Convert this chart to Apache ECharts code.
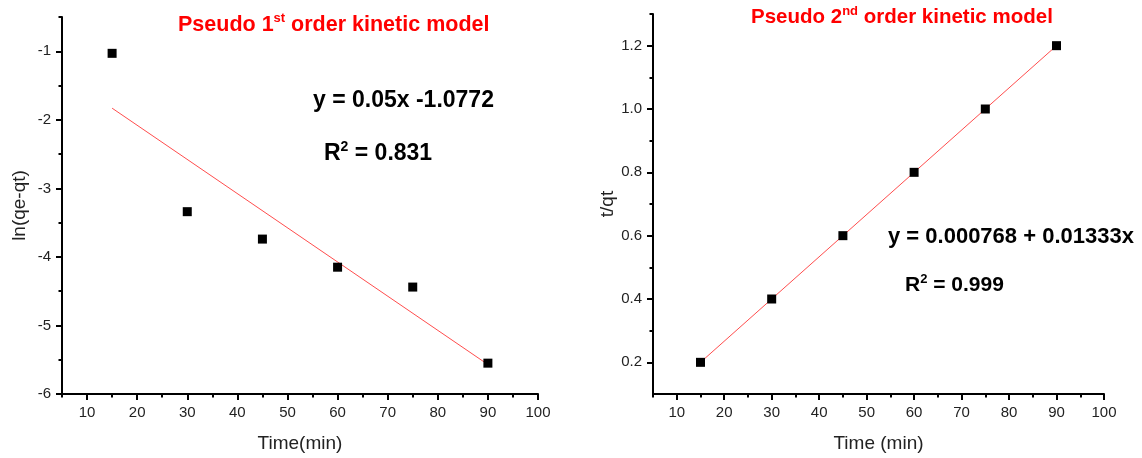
<!DOCTYPE html>
<html>
<head>
<meta charset="utf-8">
<script src="https://cdn.jsdelivr.net/npm/echarts@6/dist/echarts.min.js"></script>
<style>
  html, body { margin: 0; padding: 0; background: #fff; }
  #main { width: 1142px; height: 458px; }
</style>
</head>
<body>
<div id="main"></div>
<script>
// data
let timeMin = [15, 30, 45, 60, 75, 90]
let lnQ = [-1.03, -3.34, -3.74, -4.15, -4.44, -5.55]      // ln(qe-qt)
let tQt = [0.2, 0.4, 0.6, 0.8, 1.0, 1.2]                   // t/qt
let fit1X = [15, 90], fit1Y = [-1.83, -5.57]
let fit2X = [15, 90], fit2Y = [0.2, 1.2]

// tick values
let xMajor = [10, 20, 30, 40, 50, 60, 70, 80, 90, 100]
let xMinor = [5, 15, 25, 35, 45, 55, 65, 75, 85, 95]
let y1Major = [-6, -5, -4, -3, -2, -1]
let y1Minor = [-5.5, -4.5, -3.5, -2.5, -1.5, -0.5]
let y2Major = [0.2, 0.4, 0.6, 0.8, 1.0, 1.2]
let y2Minor = [0.3, 0.5, 0.7, 0.9, 1.1, 1.3]

let font = 'Arial, "Liberation Sans", sans-serif'
let grey = '#222'

function pairs(xs, ys) {
  let out = []
  for (let i = 0; i < xs.length; i++) out.push([xs[i], ys[i]])
  return out
}

function mainAxis(idx, pos, min, max, name, gap, major, fmt) {
  return {
    type: 'value', gridIndex: idx, position: pos, min: min, max: max,
    name: name, nameLocation: 'middle', nameGap: gap,
    nameTextStyle: { fontFamily: font, fontSize: 19, color: grey },
    axisLine: { onZero: false, lineStyle: { color: '#000', width: 2 } },
    axisTick: { customValues: major, length: 6, lineStyle: { color: '#000', width: 2 } },
    axisLabel: { customValues: major, margin: 11, fontFamily: font, fontSize: 15, color: grey, formatter: fmt },
    splitLine: { show: false }
  }
}

// second axis only for the short ticks
function minorAxis(idx, pos, min, max, minor) {
  return {
    type: 'value', gridIndex: idx, position: pos, min: min, max: max,
    axisLine: { show: false, onZero: false },
    axisTick: { customValues: minor, length: 3.5, lineStyle: { color: '#000', width: 2 } },
    axisLabel: { show: false },
    splitLine: { show: false }
  }
}

let title = (txt, left, top, rich) => ({
  text: txt, left: left, top: top, padding: 0,
  textStyle: { rich: rich }
})
function rich(color, size, supSize) {
  return {
    a: { fontFamily: font, fontSize: size, fontWeight: 'bold', color: color, lineHeight: size + 4 },
    s: { fontFamily: font, fontSize: supSize, fontWeight: 'bold', color: color, lineHeight: supSize, verticalAlign: 'top' }
  }
}

let chart = echarts.init(document.getElementById('main'))

chart.setOption({
  backgroundColor: '#fff',
  animation: false,
  title: [
    title('{a|Pseudo 1}{s|st}{a| order kinetic model}', 178, 12, rich('#ff0000', 21.5, 13)),
    title('{a|y = 0.05x -1.0772}', 313, 87, rich('#000', 23, 14)),
    title('{a|R}{s|2}{a| = 0.831}', 324, 140, rich('#000', 23, 14)),
    title('{a|Pseudo 2}{s|nd}{a| order kinetic model}', 751, 5, rich('#ff0000', 20.5, 13)),
    title('{a|y = 0.000768 + 0.01333x}', 888, 224, rich('#000', 22, 13)),
    title('{a|R}{s|2}{a| = 0.999}', 905, 273, rich('#000', 21, 13))
  ],
  grid: [
    { left: 62, right: 604, top: 17, bottom: 61 },
    { left: 653, right: 38, top: 14, bottom: 61 }
  ],
  xAxis: [
    mainAxis(0, 'bottom', 5, 100, 'Time(min)', 40, xMajor, v => String(v)),
    mainAxis(1, 'bottom', 5, 100, 'Time (min)', 40, xMajor, v => String(v)),
    minorAxis(0, 'bottom', 5, 100, xMinor),
    minorAxis(1, 'bottom', 5, 100, xMinor)
  ],
  yAxis: [
    mainAxis(0, 'left', -6, -0.5, 'ln(qe-qt)', 33, y1Major, v => String(v)),
    mainAxis(1, 'left', 0.1, 1.3, 't/qt', 36, y2Major, v => v.toFixed(1)),
    minorAxis(0, 'left', -6, -0.5, y1Minor),
    minorAxis(1, 'left', 0.1, 1.3, y2Minor)
  ],
  series: [
    {
      type: 'line', xAxisIndex: 0, yAxisIndex: 0, data: pairs(fit1X, fit1Y),
      symbol: 'none', lineStyle: { color: '#ff4d4d', width: 1 }, z: 2
    },
    {
      type: 'scatter', xAxisIndex: 0, yAxisIndex: 0, data: pairs(timeMin, lnQ),
      symbol: 'rect', symbolSize: 9, itemStyle: { color: '#000', opacity: 1 }, z: 3
    },
    {
      type: 'line', xAxisIndex: 1, yAxisIndex: 1, data: pairs(fit2X, fit2Y),
      symbol: 'none', lineStyle: { color: '#ff4d4d', width: 1 }, z: 2
    },
    {
      type: 'scatter', xAxisIndex: 1, yAxisIndex: 1, data: pairs(timeMin, tQt),
      symbol: 'rect', symbolSize: 9, itemStyle: { color: '#000', opacity: 1 }, z: 3
    }
  ]
})
</script>
</body>
</html>
